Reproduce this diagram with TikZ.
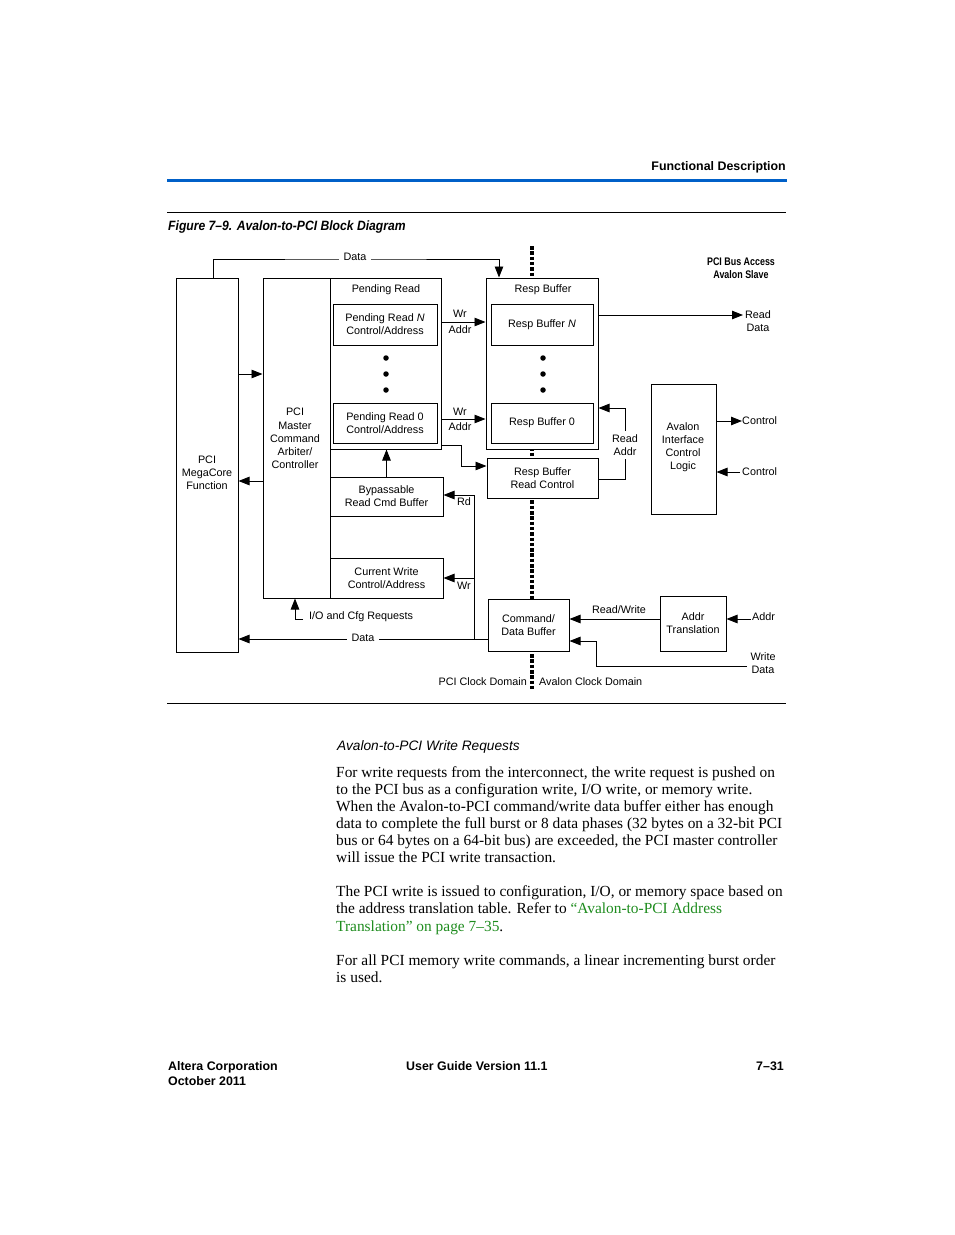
\documentclass[tikz,border=0pt]{standalone}
\usepackage{fontspec}
\setmainfont{Liberation Serif}
\setsansfont{Liberation Sans}
\usetikzlibrary{arrows.meta}
\definecolor{hdrblue}{RGB}{0,96,200}
\definecolor{linkgreen}{RGB}{30,140,30}
\begin{document}
\begin{tikzpicture}[x=1pt,y=-1pt,
  box/.style={draw,line width=1pt,fill=white,inner sep=0pt},
  lbl/.style={font=\sffamily\fontsize{10.8}{13.2}\selectfont,align=center,inner sep=0pt},
  gaplbl/.style={lbl,fill=white,inner xsep=5pt,inner ysep=1pt},
  arr/.style={line width=0.9pt,-{Triangle[length=11pt,width=8.5pt]}},
  ln/.style={line width=0.9pt},
  dotm/.style={fill,circle,inner sep=0pt,minimum size=5.5pt},
  body/.style={font=\fontsize{15.4}{17}\selectfont,anchor=base west,inner sep=0pt},
  foot/.style={font=\sffamily\bfseries\fontsize{12.4}{15}\selectfont,inner sep=0pt},
  clock/.style={line width=3.5pt,dash pattern=on 3.5pt off 1.8pt}]
\useasboundingbox[fill=white] (0,0) rectangle (954,1235);

% header
\node[foot,anchor=base east] (hdr) at (786,170) {Functional Description};
\coordinate (hrA) at (167,180); \coordinate (hrB) at (787,180);
\draw[hdrblue,line width=3pt] (hrA) -- (hrB);
\coordinate (r1A) at (167,212); \coordinate (r1B) at (786,212);
\draw[line width=0.8pt] (r1A) -- (r1B);
\node[anchor=base west,inner sep=0pt,font=\sffamily\bfseries\itshape\fontsize{13.5}{16}\selectfont] (cap) at (168,230) {\scalebox{0.9}[1]{Figure 7–9. Avalon-to-PCI Block Diagram}};

% clock domain line
\coordinate (clkT) at (532,246); \coordinate (clkB) at (532,690);
\draw[clock] (clkT) -- (clkB);

% boxes
\node[box,minimum width=62pt,minimum height=374pt] (mega) at (207,465) {};
\node[lbl] (megat) at (207,473) {PCI\\MegaCore\\Function};
\node[box,minimum width=67pt,minimum height=320pt] (master) at (296.5,438) {};
\node[lbl] (mastert) at (295,438.5) {PCI\\Master\\Command\\Arbiter/\\Controller};
\node[box,minimum width=111pt,minimum height=171pt] (pr) at (385.5,363.5) {};
\node[lbl] (prt) at (386,290) {Pending Read};
\node[box,lbl,minimum width=104pt,minimum height=41pt] (prN) at (385,324.5) {Pending Read \textit{N}\\Control/Address};
\node[box,lbl,minimum width=104pt,minimum height=40pt] (pr0) at (385,423) {Pending Read 0\\Control/Address};
\node[box,lbl,minimum width=113pt,minimum height=39pt] (byp) at (386.5,496.5) {Bypassable\\Read Cmd Buffer};
\node[box,lbl,minimum width=113pt,minimum height=40pt] (cw) at (386.5,578) {Current Write\\Control/Address};
\node[box,minimum width=112pt,minimum height=171pt] (rb) at (542,363.5) {};
\node[lbl] (rbt) at (543,290) {Resp Buffer};
\node[box,lbl,minimum width=102pt,minimum height=41pt] (rbN) at (542,324.5) {Resp Buffer \textit{N}};
\node[box,lbl,minimum width=102pt,minimum height=40pt] (rb0) at (542,423) {Resp Buffer 0};
\node[box,lbl,minimum width=111pt,minimum height=40pt] (rbc) at (542.5,478) {Resp Buffer\\Read Control};
\node[box,minimum width=65pt,minimum height=130pt] (avi) at (683.5,449) {};
\node[lbl] (avit) at (683,447) {Avalon\\Interface\\Control\\Logic};
\node[box,lbl,minimum width=81pt,minimum height=52pt] (cmd) at (528.5,625) {Command/\\Data Buffer};
\node[box,lbl,minimum width=66pt,minimum height=55pt] (atr) at (693,623.5) {Addr\\Translation};

% dots
\foreach \yy [count=\i] in {358,374,390}{
  \node[dotm] (pd\i) at (386,\yy) {};
  \node[dotm] (rd\i) at (543,\yy) {};
}

% top-right title
\node[inner sep=0pt,align=center,font=\sffamily\bfseries\fontsize{11}{13}\selectfont] (pba) at (741,268.5) {\scalebox{0.81}[1]{PCI Bus Access}\\\scalebox{0.81}[1]{Avalon Slave}};

% top data line
\coordinate (dtop) at (355,259);
\draw[arr] ([xshift=6pt]mega.north) |- (dtop) -| ([xshift=-43pt]rb.north);
\node[gaplbl] (dtopl) at (355,256.5) {Data};

% mega <-> master
\draw[arr] (mega.east |- 0,374) -- (master.west |- 0,374);
\draw[arr] (master.west |- 0,481) -- (mega.east |- 0,481);

% Wr Addr
\draw[arr] (pr.east |- 0,322) -- (rb.west |- 0,322);
\node[lbl] (wr1) at (460,314) {Wr};
\node[lbl] (ad1) at (460,330) {Addr};
\draw[arr] (pr.east |- 0,419) -- (rb.west |- 0,419);
\node[lbl] (wr2) at (460,412) {Wr};
\node[lbl] (ad2) at (460,427) {Addr};

% pending -> read control
\coordinate (kink1) at (461,466);
\draw[arr] (pr.east |- 0,445) -| (kink1) -- (rbc.west |- kink1);

% read addr
\coordinate (kink2) at (625,408);
\draw[arr] (rbc.east |- 0,479) -| (kink2) -- (rb.east |- kink2);
\node[lbl,fill=white,inner xsep=1pt,inner ysep=3pt] (rat) at (625,445) {Read\\Addr};

% bypass -> pending
\draw[arr] (byp.north) -- (byp.north |- pr.south);

% Rd / Wr bus
\coordinate (busT) at (474,495); \coordinate (busW) at (474,578); \coordinate (busB) at (474,639);
\draw[ln] (busT) -- (busB);
\draw[arr] (busT) -- (byp.east |- busT);
\draw[arr] (busW) -- (cw.east |- busW);
\node[lbl] (rdl) at (464,502) {Rd};
\node[lbl] (wrl) at (464,586) {Wr};

% bottom data
\draw[arr] (cmd.west |- busB) -- (mega.east |- busB);
\node[gaplbl] (dbot) at (363,638) {Data};

% I/O and Cfg
\coordinate (ioS) at (303,619);
\draw[arr] (ioS) -| ([xshift=-1.5pt]master.south);
\node[lbl,anchor=west] (iot) at (309,617) {I/O and Cfg Requests};

% read data
\node[lbl] (rdat) at (758,321) {Read\\Data};
\draw[arr] (rb.east |- 0,315) -- (743,315);

% control
\node[lbl,anchor=west] (c1) at (742,421) {Control};
\node[lbl,anchor=west] (c2) at (742,472) {Control};
\draw[arr] (avi.east |- c1) -- (c1.west);
\draw[arr] ([xshift=-2pt]c2.west) -- (avi.east |- c2);

% addr translation
\draw[arr] (atr.west |- 0,619) -- (cmd.east |- 0,619);
\node[lbl] (rwl) at (619,610) {Read/Write};
\node[lbl,anchor=west] (addrin) at (752,617) {Addr};
\draw[arr] ([xshift=-1pt]addrin.west |- 0,619) -- (atr.east |- 0,619);
\node[lbl] (wdat) at (763,663) {Write\\Data};
\coordinate (wdS) at (747,666); \coordinate (wdK) at (596,641);
\draw[arr] (wdS) -| (wdK) -- (cmd.east |- wdK);

% clock domain labels
\node[lbl,anchor=east] (pcid) at (527,682) {PCI Clock Domain};
\node[lbl,anchor=west] (avd) at (539,682) {Avalon Clock Domain};

\coordinate (r2A) at (167,703); \coordinate (r2B) at (786,703);
\draw[line width=0.8pt] (r2A) -- (r2B);

% body text
\node[anchor=base west,inner sep=0pt,font=\sffamily\itshape\fontsize{13.7}{16}\selectfont] (h2) at (337,750) {Avalon-to-PCI Write Requests};
\node[body] (l1) at (336,777) {For write requests from the interconnect, the write request is pushed on};
\node[body] (l2) at (336,794) {to the PCI bus as a configuration write, I/O write, or memory write.};
\node[body] (l3) at (336,811) {When the Avalon-to-PCI command/write data buffer either has enough};
\node[body] (l4) at (336,828) {data to complete the full burst or 8 data phases (32 bytes on a 32-bit PCI};
\node[body] (l5) at (336,845) {bus or 64 bytes on a 64-bit bus) are exceeded, the PCI master controller};
\node[body] (l6) at (336,862) {will issue the PCI write transaction.};
\node[body] (m1) at (336,896) {The PCI write is issued to configuration, I/O, or memory space based on};
\node[body] (m2) at (336,913.5) {the address translation table. Refer to \textcolor{linkgreen}{“Avalon-to-PCI Address}};
\node[body] (m3) at (336,931) {\textcolor{linkgreen}{Translation” on page 7–35}.};
\node[body] (n1) at (336,965.5) {For all PCI memory write commands, a linear incrementing burst order};
\node[body] (n2) at (336,982.5) {is used.};

% footer
\node[foot,anchor=base west] (f1) at (168,1070) {Altera Corporation};
\node[foot,anchor=base west] (f2) at (168,1085) {October 2011};
\node[foot,anchor=base west] (f3) at (406,1070) {User Guide Version 11.1};
\node[foot,anchor=base east] (f4) at (784,1070) {7–31};
\end{tikzpicture}
\end{document}
